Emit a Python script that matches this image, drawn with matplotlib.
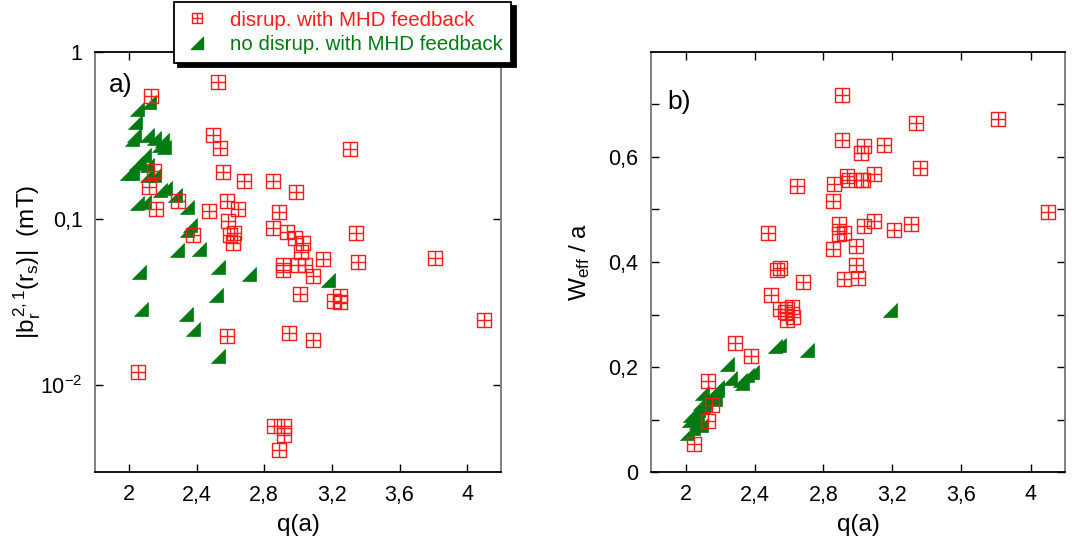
import numpy as np
import matplotlib
matplotlib.use('Agg')
import matplotlib.pyplot as plt
from matplotlib.path import Path
from matplotlib.lines import Line2D

plt.rcParams['font.family'] = ['Liberation Sans', 'DejaVu Sans']
plt.rcParams['mathtext.fontset'] = 'custom'
plt.rcParams['mathtext.rm'] = 'Liberation Sans'
plt.rcParams['mathtext.it'] = 'Liberation Sans'

# ---- panel a) : |b_r^{2,1}(r_s)| vs q(a)
qa_red_a = [2.13, 2.525, 2.495, 2.54, 2.147, 2.12, 2.163, 2.29, 2.554, 2.68, 2.855, 2.986,
            3.306, 2.475, 2.578, 2.644, 2.89, 2.38, 2.585, 2.62, 2.60, 2.613, 2.85, 2.935,
            2.98, 3.03, 3.016, 3.34, 3.15, 3.356, 3.81, 2.91, 2.91, 2.998, 3.04, 3.09,
            3.01, 3.21, 3.25, 3.25, 4.10, 2.58, 2.947, 3.086, 2.053, 2.86, 2.917, 2.917, 2.89]
br_red_a = [0.543, 0.66, 0.318, 0.264, 0.194, 0.154, 0.115, 0.128, 0.19, 0.168, 0.168, 0.145,
            0.261, 0.111, 0.128, 0.114, 0.110, 0.080, 0.097, 0.082, 0.080, 0.071, 0.0875, 0.083,
            0.077, 0.071, 0.063, 0.082, 0.057, 0.0546, 0.058, 0.0525, 0.049, 0.0525, 0.0525, 0.0453,
            0.0355, 0.0319, 0.0342, 0.0316, 0.0248, 0.0198, 0.0207, 0.0186, 0.0121, 0.00568, 0.00568,
            0.00506, 0.00411]

qa_grn_a = [2.12, 2.05, 2.035, 2.03, 2.02, 2.108, 2.147, 2.196, 2.206, 2.18, 2.088, 2.06, 2.04,
            2.108, 2.02, 1.99, 2.147, 2.11, 2.183, 2.216, 2.275, 2.344, 2.05, 2.088, 2.363,
            2.344, 2.285, 2.413, 2.06, 2.53, 2.71, 3.18, 2.517, 2.07, 2.34, 2.38, 2.53]
br_grn_a = [0.502, 0.458, 0.381, 0.317, 0.30, 0.317, 0.303, 0.296, 0.27, 0.277, 0.24, 0.219, 0.215,
            0.21, 0.187, 0.189, 0.183, 0.183, 0.148, 0.152, 0.139, 0.118, 0.124, 0.126, 0.0917,
            0.086, 0.065, 0.066, 0.0479, 0.0513, 0.0468, 0.043, 0.0347, 0.0288, 0.0269, 0.0219, 0.0149]

# ---- panel b) : W_eff / a vs q(a)
qa_red_b = [2.907, 3.339, 3.814, 2.909, 3.033, 3.017, 3.149, 3.359, 2.936, 2.95, 3.017, 3.03,
            3.09, 2.858, 2.645, 2.853, 4.103, 2.477, 2.891, 2.891, 2.916, 3.033, 3.09, 3.207,
            3.31, 2.853, 2.988, 2.988, 2.53, 2.545, 2.917, 2.998, 2.684, 2.496, 2.545, 2.588,
            2.62, 2.578, 2.588, 2.626, 2.287, 2.38, 2.128, 2.151, 2.128, 2.05]
w_red_b = [0.718, 0.665, 0.673, 0.633, 0.620, 0.608, 0.623, 0.579, 0.563, 0.557, 0.556, 0.556,
           0.567, 0.548, 0.544, 0.516, 0.495, 0.456, 0.473, 0.454, 0.456, 0.469, 0.479, 0.461,
           0.472, 0.425, 0.431, 0.394, 0.384, 0.389, 0.367, 0.370, 0.362, 0.337, 0.311, 0.311,
           0.315, 0.305, 0.289, 0.296, 0.245, 0.221, 0.174, 0.127, 0.097, 0.053]

qa_grn_b = [3.188, 2.519, 2.54, 2.705, 2.238, 2.258, 2.316, 2.355, 2.384, 2.326, 2.18, 2.16,
            2.093, 2.12, 2.083, 2.045, 2.025, 2.064, 2.103, 2.006, 2.045, 2.14, 2.18, 2.06,
            2.02, 2.11, 2.17, 2.09, 2.035, 2.075]
w_grn_b = [0.309, 0.240, 0.242, 0.232, 0.205, 0.18, 0.175, 0.185, 0.19, 0.17, 0.162, 0.153,
           0.15, 0.14, 0.131, 0.115, 0.108, 0.105, 0.124, 0.074, 0.083, 0.147, 0.156, 0.095,
           0.10, 0.13, 0.14, 0.09, 0.112, 0.118]

red = '#ff1a1a'
green = '#007a12'

# square with a cross inside
sq = Path([(-1, -1), (1, -1), (1, 1), (-1, 1), (-1, -1), (0, -1), (0, 1), (-1, 0), (1, 0)],
          [Path.MOVETO, Path.LINETO, Path.LINETO, Path.LINETO, Path.CLOSEPOLY,
           Path.MOVETO, Path.LINETO, Path.MOVETO, Path.LINETO])
# right triangle, right angle at bottom right
tri = Path([(-1, -1), (1, -1), (1, 1), (-1, -1)],
           [Path.MOVETO, Path.LINETO, Path.LINETO, Path.CLOSEPOLY])

fig = plt.figure(figsize=(10.72, 5.42), dpi=100)
W, H = 1072, 542
axa = fig.add_axes([95 / W, 1 - 472 / H, 406 / W, 420 / H])
axb = fig.add_axes([651 / W, 1 - 472 / H, 414 / W, 420 / H])

for ax, xr, yr, xg, yg in [(axa, qa_red_a, br_red_a, qa_grn_a, br_grn_a),
                           (axb, qa_red_b, w_red_b, qa_grn_b, w_grn_b)]:
    ax.plot(xg, yg, ls='none', marker=tri, ms=10.5, mfc=green, mec=green, mew=0.5)
    ax.plot(xr, yr, ls='none', marker=sq, ms=9.5, mfc='none', mec=red, mew=1.0)
    ax.set_xlim(1.8, 4.2)
    ax.set_xticks([2, 2.4, 2.8, 3.2, 3.6, 4])
    ax.set_xticklabels(['2', '2,4', '2,8', '3,2', '3,6', '4'])
    ax.tick_params(direction='in', top=True, right=True, length=6, width=1,
                   labelsize=15.5, pad=9)
    ax.tick_params(which='minor', length=0)
    ax.set_xlabel('q(a)', fontsize=17.5, labelpad=6)
    for s in ['left', 'right']:
        ax.spines[s].set_color('#777777')
    for s in ax.spines.values():
        s.set_linewidth(1.3)

axa.set_yscale('log')
axa.set_ylim(10 ** -2.52, 1)
axa.set_yticks([0.01, 0.1, 1])
axa.set_yticklabels(['$10^{-2}$', '0,1', '1'])
axa.minorticks_off()
axa.set_ylabel(r'|b$_r^{\,2,1}$(r$_s$)|  (mT)', fontsize=17.5, labelpad=-2)
axa.text(0.035, 0.905, 'a)', transform=axa.transAxes, fontsize=19)

axb.set_ylim(0, 0.8)
axb.set_yticks([0, 0.1, 0.2, 0.3, 0.4, 0.5, 0.6, 0.7])
axb.set_yticklabels(['0', '', '0,2', '', '0,4', '', '0,6', ''])
axb.set_ylabel(r'W$_{eff}$ / a', fontsize=17.5, labelpad=12)
axb.text(0.04, 0.865, 'b)', transform=axb.transAxes, fontsize=19)

handles = [Line2D([], [], ls='none', marker=sq, ms=7.5, mfc='none', mec=red, mew=1.0),
           Line2D([], [], ls='none', marker=tri, ms=8, mfc=green, mec=green)]
leg = fig.legend(handles, ['disrup. with MHD feedback', 'no disrup. with MHD feedback'],
                 loc='upper left', bbox_to_anchor=(174 / W, 1 - 2 / H),
                 fontsize=14.8, labelcolor=[red, green], frameon=True, fancybox=False,
                 shadow={'color': 'black', 'alpha': 1, 'ox': 3, 'oy': -3},
                 borderpad=0.42, handletextpad=0.9, labelspacing=0.28, handlelength=1.4,
                 borderaxespad=0)
leg.get_frame().set_edgecolor('black')
leg.get_frame().set_linewidth(1.3)

fig.savefig('out.png', dpi=100)
